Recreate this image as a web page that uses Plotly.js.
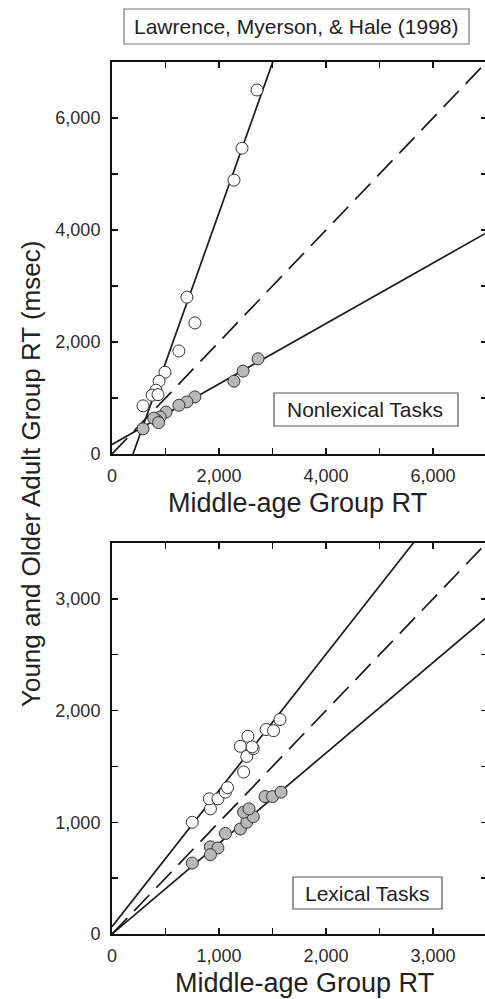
<!DOCTYPE html>
<html>
<head>
<meta charset="utf-8">
<script src="https://cdn.plot.ly/plotly-3.0.1.min.js"></script>
<style>
html,body{margin:0;padding:0;overflow:hidden;background:#fff;}
#chart{width:490px;height:999px;}
</style>
</head>
<body>
<div id="chart"></div>
<script>
// ---- Nonlexical tasks (top panel) ----
var nonlexOlderX = [2710, 2430, 2280, 1400, 1550, 1250, 990, 880, 820, 750, 860, 580];
var nonlexOlderY = [6500, 5460, 4890, 2800, 2340, 1840, 1460, 1300, 1140, 1050, 1060, 860];
var nonlexYoungX = [2730, 2450, 2280, 1550, 1400, 1250, 1010, 900, 840, 780, 870, 580];
var nonlexYoungY = [1700, 1480, 1300, 1020, 930, 870, 750, 660, 600, 640, 560, 450];
var nonlexOlderFit = [2.68, -1053];   // [slope, intercept]
var nonlexYoungFit = [0.54, 170];

// ---- Lexical tasks (bottom panel) ----
var lexOlderX = [750, 920, 910, 990, 1060, 1080, 1230, 1260, 1320, 1200, 1270, 1440, 1510, 1570, 1310];
var lexOlderY = [1000, 1120, 1210, 1210, 1270, 1310, 1450, 1590, 1660, 1680, 1770, 1830, 1820, 1920, 1675];
var lexYoungX = [750, 920, 990, 920, 1060, 1200, 1260, 1320, 1230, 1280, 1430, 1500, 1580];
var lexYoungY = [635, 780, 770, 710, 900, 940, 1000, 1050, 1090, 1120, 1230, 1230, 1270];
var lexOlderFit = [1.22, 65];
var lexYoungFit = [0.81, 0];

var topMax = 7000, botMax = 3500;
var W = 490, H = 999;
function px(x){return x / W;}
function py(y){return (H - y) / H;}

function fitLine(fit, max, xa, ya){
  return {x:[0, max], y:[fit[1], fit[1] + fit[0]*max], xaxis:xa, yaxis:ya,
    mode:'lines', line:{color:'#1a1a1a', width:1.7}, showlegend:false, hoverinfo:'skip'};
}
function identity(max, xa, ya){
  return {x:[0, max], y:[0, max], xaxis:xa, yaxis:ya, mode:'lines',
    line:{color:'#1a1a1a', width:1.7, dash:'22px,10px'}, showlegend:false, hoverinfo:'skip'};
}
function pts(x, y, fill, xa, ya, name){
  return {x:x, y:y, xaxis:xa, yaxis:ya, mode:'markers', name:name, showlegend:false,
    marker:{size:12, color:fill, line:{color:'#333', width:1}}, cliponaxis:false};
}

var data = [
  identity(topMax, 'x', 'y'),
  fitLine(nonlexOlderFit, topMax, 'x', 'y'),
  fitLine(nonlexYoungFit, topMax, 'x', 'y'),
  pts(nonlexOlderX, nonlexOlderY, '#ffffff', 'x', 'y', 'Older'),
  pts(nonlexYoungX, nonlexYoungY, '#b8b8b8', 'x', 'y', 'Young'),
  identity(botMax, 'x2', 'y2'),
  fitLine(lexOlderFit, botMax, 'x2', 'y2'),
  fitLine(lexYoungFit, botMax, 'x2', 'y2'),
  pts(lexOlderX, lexOlderY, '#ffffff', 'x2', 'y2', 'Older'),
  pts(lexYoungX, lexYoungY, '#b8b8b8', 'x2', 'y2', 'Young')
];

var font = 'Liberation Sans, Arial, Helvetica, sans-serif';
function axis(range, dtick, minor, domain, anchor, isX){
  return {range:range, domain:domain, anchor:anchor, dtick:dtick, tick0:0,
    tickformat:',d', showline:true, linecolor:'#111', linewidth:2, mirror:'ticks',
    ticks:'inside', ticklen:6, tickwidth:1.5, tickcolor:'#111',
    minor:{dtick:minor, tick0:0, ticks:'inside', ticklen:6, tickwidth:1.5, tickcolor:'#111', showgrid:false},
    showgrid:false, zeroline:false, automargin:false, fixedrange:true,
    ticklabelstandoff: isX ? 4 : 6,
    tickfont:{family:font, size:18, color:'#2a2a2a'}};
}
var xd = [px(112), px(486.5)];
var layout = {
  width:W, height:H, margin:{l:0, r:0, t:0, b:0},
  paper_bgcolor:'#fff', plot_bgcolor:'#fff', showlegend:false,
  font:{family:font, color:'#222'},
  xaxis: axis([0, topMax], 2000, 1000, xd, 'y', true),
  yaxis: axis([0, topMax], 2000, 1000, [py(454), py(62)], 'x', false),
  xaxis2: axis([0, botMax], 1000, 500, xd, 'y2', true),
  yaxis2: axis([0, botMax], 1000, 500, [py(934), py(543)], 'x2', false),
  shapes:[
    {type:'rect', xref:'paper', yref:'paper', x0:px(124), x1:px(469), y0:py(44), y1:py(9), line:{color:'#777', width:1.2}, fillcolor:'#fff', layer:'above'},
    {type:'rect', xref:'paper', yref:'paper', x0:px(274), x1:px(458), y0:py(426), y1:py(393), line:{color:'#555', width:1.2}, fillcolor:'#fff', layer:'above'},
    {type:'rect', xref:'paper', yref:'paper', x0:px(293), x1:px(442), y0:py(909), y1:py(877), line:{color:'#555', width:1.2}, fillcolor:'#fff', layer:'above'}
  ],
  annotations:[
    {text:'Lawrence, Myerson, & Hale (1998)', xref:'paper', yref:'paper', x:px(296.5), y:py(27), xanchor:'center', yanchor:'middle', showarrow:false, font:{family:font, size:21, color:'#222'}},
    {text:'Nonlexical Tasks', xref:'paper', yref:'paper', x:px(365), y:py(410), xanchor:'center', yanchor:'middle', showarrow:false, font:{family:font, size:21, color:'#222'}},
    {text:'Lexical Tasks', xref:'paper', yref:'paper', x:px(367.5), y:py(893.5), xanchor:'center', yanchor:'middle', showarrow:false, font:{family:font, size:21, color:'#222'}},
    {text:'Middle-age Group RT', xref:'paper', yref:'paper', x:px(297), y:py(503), xanchor:'center', yanchor:'middle', showarrow:false, font:{family:font, size:27, color:'#222'}},
    {text:'Middle-age Group RT', xref:'paper', yref:'paper', x:px(304), y:py(983), xanchor:'center', yanchor:'middle', showarrow:false, font:{family:font, size:27, color:'#222'}},
    {text:'Young and Older Adult Group RT (msec)', xref:'paper', yref:'paper', x:px(31), y:py(474), xanchor:'center', yanchor:'middle', textangle:-90, showarrow:false, font:{family:font, size:26, color:'#222'}}
  ]
};
Plotly.newPlot('chart', data, layout, {displayModeBar:false, staticPlot:true});
</script>
</body>
</html>
